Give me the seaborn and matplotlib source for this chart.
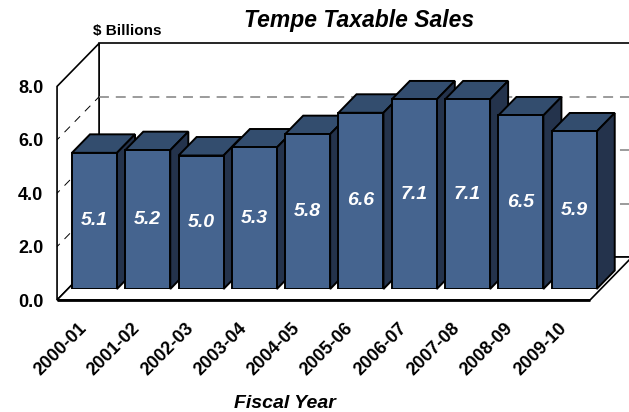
import matplotlib
matplotlib.use("Agg")
import matplotlib.pyplot as plt
from matplotlib.patches import Polygon
import pandas as pd
import seaborn as sns

# Tempe taxable sales by fiscal year, $ billions
fiscal_years = ["2000-01", "2001-02", "2002-03", "2003-04", "2004-05",
                "2005-06", "2006-07", "2007-08", "2008-09", "2009-10"]
taxable_sales = [5.1, 5.2, 5.0, 5.3, 5.8, 6.6, 7.1, 7.1, 6.5, 5.9]
y_ticks = [0.0, 2.0, 4.0, 6.0, 8.0]
y_tick_labels = ["0.0", "2.0", "4.0", "6.0", "8.0"]

FRONT = "#45648f"
TOP = "#334d6e"
SIDE = "#24334c"

sns.set_theme(style="white")
plt.rcParams["font.family"] = ["Liberation Sans", "DejaVu Sans"]
plt.rcParams["text.color"] = "black"

W, H = 629, 412
fig = plt.figure(figsize=(W / 100, H / 100), dpi=100)
ax = fig.add_axes([67.8 / W, (H - 289) / H, 533 / W, 213.6 / H])

EDGE_LW = 1.4

df = pd.DataFrame({"year": fiscal_years, "sales": taxable_sales})
sns.barplot(data=df, x="year", y="sales", color=FRONT, saturation=1,
            width=0.845, edgecolor="black", linewidth=EDGE_LW, ax=ax)
bars = list(ax.patches)

ax.set_xlim(-0.5, 9.5)
ax.set_ylim(0, 8)
ax.set_xticks([])
ax.set_yticks([])
ax.set_xlabel("")
ax.set_ylabel("")
for s in ax.spines.values():
    s.set_visible(False)
ax.patch.set_alpha(0)

# oblique 3-D look: full floor depth expressed in pixels
DEPTH_PX = (42.0, 43.0)
BAR_FRONT = 0.256      # depth of the bars' front face (fraction of floor depth)
BAR_DEPTH = 0.43       # depth of each bar

p0 = ax.transData.transform((0, 0))
p1 = ax.transData.transform((1, 1))
ux, uy = p1 - p0


def at(x, y, d):
    """Data point (x, y) moved to depth d of the floor."""
    s = d - BAR_FRONT
    return (x + s * DEPTH_PX[0] / ux, y + s * DEPTH_PX[1] / uy)


def face(pts, fc, z, lw=EDGE_LW):
    ax.add_patch(Polygon(pts, closed=True, fc=fc, ec="black", lw=lw,
                         zorder=z, clip_on=False, joinstyle="miter"))


x_lo, x_hi = ax.get_xlim()
y_lo, y_hi = ax.get_ylim()

# back wall, left wall, floor
face([at(x_lo, y_lo, 1), at(x_hi, y_lo, 1), at(x_hi, y_hi, 1), at(x_lo, y_hi, 1)], "white", 1, 1.2)
face([at(x_lo, y_lo, 0), at(x_lo, y_lo, 1), at(x_lo, y_hi, 1), at(x_lo, y_hi, 0)], "white", 1, 1.2)
face([at(x_lo, y_lo, 0), at(x_hi, y_lo, 0), at(x_hi, y_lo, 1), at(x_lo, y_lo, 1)], "white", 2, 1.2)
fx, fy = zip(at(x_lo, y_lo, 0), at(x_hi, y_lo, 0))
ax.plot(fx, fy, color="black", lw=2.0, zorder=3, clip_on=False, solid_capstyle="butt")

# dashed gridlines on the walls
for g in y_ticks[1:-1]:
    gx, gy = zip(at(x_lo, g, 1), at(x_hi, g, 1))
    ax.plot(gx, gy, color="#808080", lw=1.1, ls=(0, (6.5, 4.5)), zorder=1.5, clip_on=False)
    lx, ly = zip(at(x_lo, g, 0), at(x_lo, g, 1))
    ax.plot(lx, ly, color="black", lw=0.7, ls=(4, (8, 7)), zorder=1.5, clip_on=False)

# bar tops and sides, drawn so each bar hides the side of its left neighbour
b0, b1 = BAR_FRONT, BAR_FRONT + BAR_DEPTH
for i, (bar, v) in enumerate(zip(bars, taxable_sales)):
    x, w, h = bar.get_x(), bar.get_width(), bar.get_height()
    z = 10 + 2 * i
    face([at(x, h, b0), at(x + w, h, b0), at(x + w, h, b1), at(x, h, b1)], TOP, z)
    face([at(x + w, 0, b0), at(x + w, 0, b1), at(x + w, h, b1), at(x + w, h, b0)], SIDE, z)
    bar.set_zorder(z + 1)
    ax.text(x + w / 2, h / 2, f"{v:.1f}", color="white", fontsize=14,
            fontweight="bold", fontstyle="italic", ha="center", va="center",
            zorder=60)

# axis labels on the front edges
for g, lab in zip(y_ticks, y_tick_labels):
    ax.annotate(lab, xy=at(x_lo, g, 0), xytext=(-10, -1.5), textcoords="offset points",
                ha="right", va="center", fontsize=13, fontweight="bold",
                annotation_clip=False)
for i, lab in enumerate(fiscal_years):
    ax.annotate(lab, xy=at(i, 0, 0), xytext=(-4, -14), textcoords="offset points",
                ha="right", va="top", rotation=45, rotation_mode="anchor",
                fontsize=13, fontweight="bold", annotation_clip=False)

fig.text(359.5 / W, (H - 27) / H, "Tempe Taxable Sales", ha="center", va="baseline",
         fontsize=16.5, fontweight="bold", fontstyle="italic")
fig.text(93 / W, (H - 35) / H, "$ Billions", ha="left", va="baseline",
         fontsize=11, fontweight="bold")
fig.text(285 / W, (H - 408) / H, "Fiscal Year", ha="center", va="baseline",
         fontsize=14, fontweight="bold", fontstyle="italic")

fig.savefig("out.png", dpi=100)
